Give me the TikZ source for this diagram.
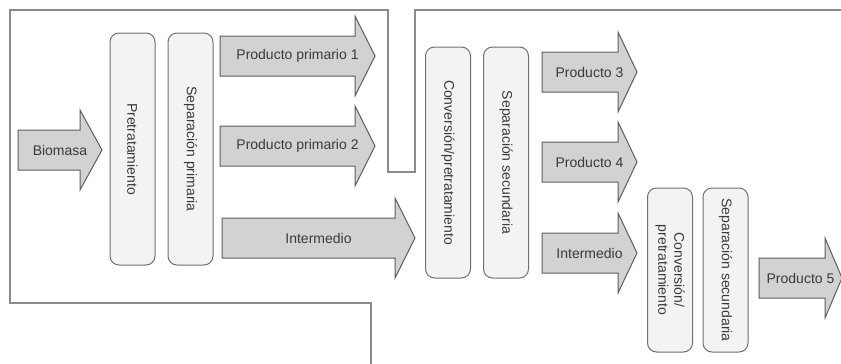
\documentclass[tikz,border=0pt]{standalone}
\usepackage{fontspec}
\setmainfont{Liberation Sans}
\usepackage{tikz}
\usetikzlibrary{positioning, calc}
\definecolor{arrowgray}{HTML}{D2D2D2}
\definecolor{arrowedge}{HTML}{5E5E5E}
\definecolor{boxgray}{HTML}{F3F3F3}
\definecolor{boxedge}{HTML}{707070}
\definecolor{framegray}{HTML}{8A8A8A}
\definecolor{textgray}{HTML}{3A3A3A}

\begin{document}
\begin{tikzpicture}[x=1pt, y=-1pt,
  flecha/.style={fill=arrowgray, draw=arrowedge, line width=1pt, line join=miter},
  etiqueta/.style={text=textgray, font=\fontsize{14}{16}\selectfont, inner sep=0pt},
  proceso/.style={fill=boxgray, draw=boxedge, line width=1pt, rounded corners=9pt,
    rotate=-90, minimum height=45pt, inner sep=0pt, align=center,
    text=textgray, font=\fontsize{14}{16}\selectfont},
  marco/.style={framegray, line width=2pt}]
  \useasboundingbox (0,0) rectangle (841,364);

  % Outer flow frame
  \draw[marco] (371,364) -- (371,303) -- (10,303) -- (10,10) -- (388,10)
    -- (388,172) -- (415,172) -- (415,10) -- (841,10);

  % Process columns
  \node[proceso, minimum width=232pt] (pretrat) at (132.5,149) {Pretratamiento};
  \node[proceso, minimum width=232pt] (seppri) at (190.5,149) {Separación primaria};
  \node[proceso, minimum width=231pt] (conv1) at (448,162.5) {Conversión/pretratamiento};
  \node[proceso, minimum width=231pt] (sepsec1) at (506,162.5) {Separación secundaria};
  \node[proceso, minimum width=164pt] (conv2) at (670,270) {Conversión/\\pretratamiento};
  \node[proceso, minimum width=164pt] (sepsec2) at (725.5,270) {Separación secundaria};

  % Block arrows: name / tail x / head start x / tip x / centre y / text
  \foreach \nm/\xa/\xb/\xt/\yc/\txt in {
    biomasa/18/80/102/150/Biomasa,
    prim1/220/355/375/56/Producto primario 1,
    prim2/220/355/375/146/Producto primario 2,
    inter1/222/395/415/238/Intermedio,
    prod3/542/618/637/72/Producto 3,
    prod4/542/618/637/162/Producto 4,
    inter2/542/618/637/253/Intermedio,
    prod5/759/825/842/278/Producto 5} {
    \draw[flecha] (\xa,\yc-20) -- (\xb,\yc-20) -- (\xb,\yc-40) -- (\xt,\yc)
      -- (\xb,\yc+40) -- (\xb,\yc+20) -- (\xa,\yc+20) -- cycle;
    \node[etiqueta] (\nm) at ({(\xa+\xt)/2},\yc) {\txt};
  }
\end{tikzpicture}
\end{document}
